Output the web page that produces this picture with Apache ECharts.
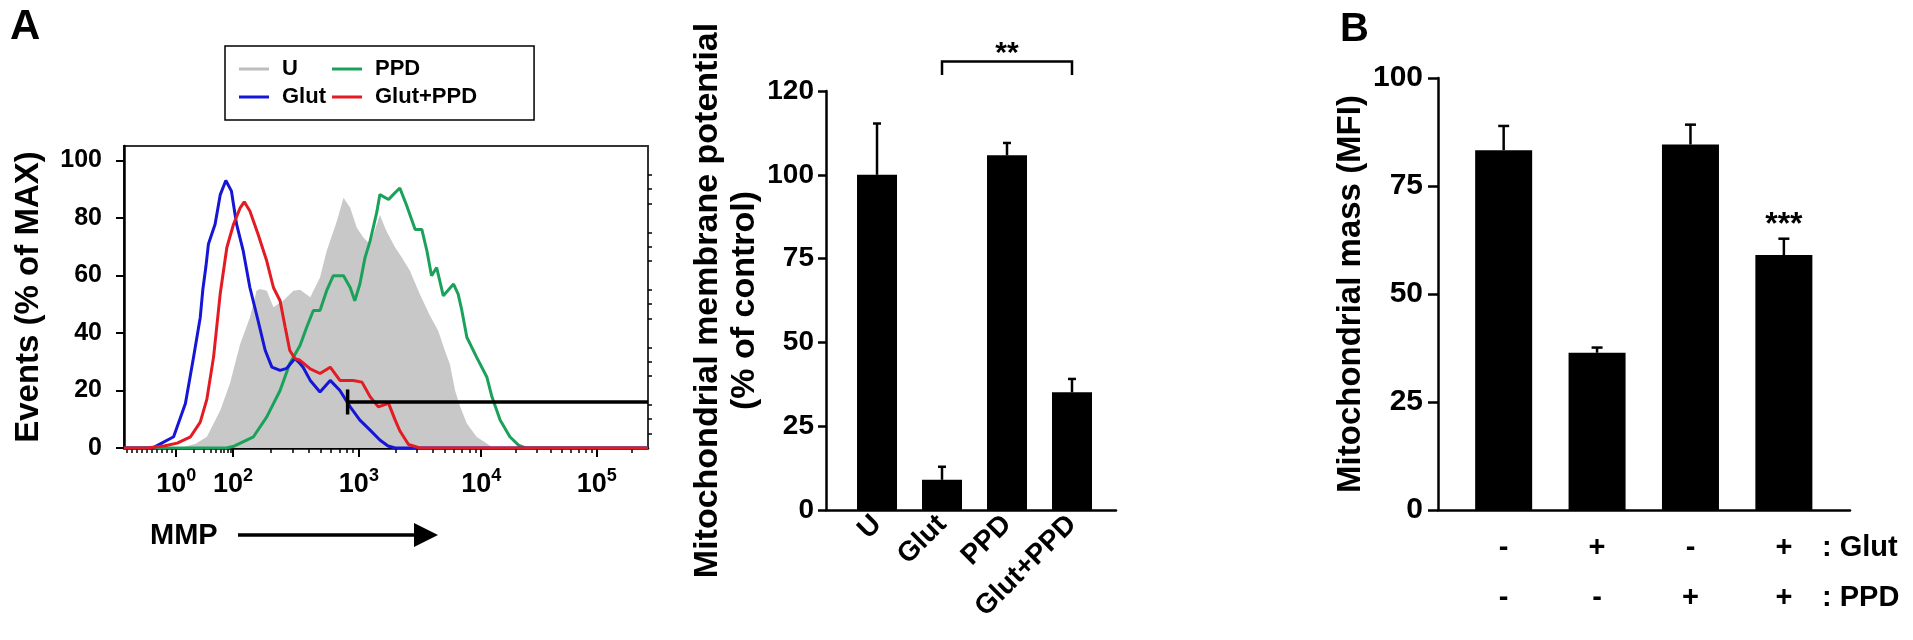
<!DOCTYPE html>
<html><head><meta charset="utf-8">
<script src="https://cdn.jsdelivr.net/npm/echarts@6/dist/echarts.min.js"></script>
<style>html,body{margin:0;padding:0;background:#fff}#c{width:1913px;height:640px}</style>
</head><body><div id="c"></div>
<script>
// ===== Panel A (left): MMP flow-cytometry histogram; x = display channel (0-1024, biexponential display) =====
const histU = [[0,0],[109,0],[140,1.5],[162,3.9],[188,13],[207,22.4],[227,36.2],[246,45.4],[259,54.7],[266,55.3],[279,54.7],[292,48.9],[311,51.2],[331,54.7],[344,55],[364,52.4],[383,59.3],[396,68.5],[416,78.9],[429,87],[442,83.5],[455,76.6],[468,73.1],[481,70.8],[500,81],[513,75.4],[530,69.7],[543,66.2],[559,61.5],[578,53.5],[598,46],[614,40.8],[627,33.9],[637,29],[647,20],[657,14.3],[670,8.5],[689,3.9],[709,1.6],[721,0],[1024,0]];
const histPPD = [[0,0],[200,0],[213,0.5],[253,3.9],[279,10.8],[305,20],[324,29.4],[344,35.6],[357,42],[370,47.8],[383,47.8],[396,54.7],[409,59.9],[429,59.9],[442,55.8],[451,51.2],[461,57],[471,66.2],[481,72],[494,82],[500,88.1],[517,86.4],[526,88.1],[539,90.4],[552,84.5],[569,76],[582,76],[592,68.5],[601,59.9],[611,62.7],[624,52.9],[644,57],[653,53.5],[660,48],[670,38.5],[689,31.6],[709,24.7],[719,17.8],[735,9.7],[754,3.9],[771,1],[784,0],[1024,0]];
const histGlut = [[0,0],[55,0],[61,0.5],[97,3.9],[120,15.5],[136,31.6],[149,45.4],[154,55],[160,63],[165,70.9],[178,77.8],[188,88],[199,93],[210,89.3],[220,77.8],[233,68.5],[246,55.8],[262,44.3],[276,33.9],[289,28.1],[305,27],[318,27.7],[334,31.1],[344,29.4],[350,28.1],[364,23.5],[383,19.5],[403,23.5],[422,20],[442,14.3],[461,9.7],[481,6.2],[500,2.8],[516,0.7],[530,0],[1024,0]];
const histGlutPPD = [[0,0],[45,0],[80,0.8],[104,1.7],[130,3.9],[149,9],[162,17],[175,31.6],[188,53.6],[201,69.7],[214,77.8],[227,83.5],[235,85.6],[246,82.4],[262,74.3],[279,65],[292,55.8],[305,51.2],[315,42],[324,33.9],[334,31.1],[344,30.5],[364,27.5],[383,25.9],[403,28.1],[422,23.5],[448,23.5],[465,22.9],[481,17.8],[497,14.3],[517,15.5],[530,9.7],[539,6],[556,1.2],[578,0],[1024,0]];
const histNames = ['U','Glut','PPD','Glut+PPD'];
const gateLevel = 16;
const gateRange = [437, 1024];
const histYTicks = [0,20,40,60,80,100];
const decadeExp = ['0','2','3','4','5'];
const decadeLabelChannels = [102,213,459,698,924];
const decadeChannels = [102,213,459,698,924,1150];   // decade boundaries of the display
const linearTickChannels = [6,16,25,35,45,55,64,74,84,94];

// ===== Panel A (right): mitochondrial membrane potential =====
const mmpCats = ['U','Glut','PPD','Glut+PPD'];
const mmpMean = [100, 9.0, 105.8, 35.1];
const mmpErr = [15.3, 3.9, 3.7, 4.0];
const mmpTickLabels = ['0','25','50','75','100','120'];
const mmpSig = {from:1, to:3, top:133.8, drop:129.8, text:'**'};

// ===== Panel B: mitochondrial mass =====
const massGlut = ['-','+','-','+'];
const massPPD = ['-','-','+','+'];
const massMean = [83.3, 36.4, 84.6, 59.0];
const massErr = [5.6, 1.2, 4.6, 3.8];
const massSig = ['','','','***'];

const FONT = '"Liberation Sans", Arial, Helvetica, sans-serif';
const minorLog = [];
for (let d = 0; d < decadeChannels.length - 1; d++) {
  const c0 = decadeChannels[d], c1 = decadeChannels[d+1];
  for (let k = 2; k <= 9; k++) { const c = c0 + (c1 - c0) * Math.log10(k); if (c <= 1024) minorLog.push(c); }
}
const histMinorTicks = linearTickChannels.concat(minorLog);
const histYMinor = [];
for (let v = 5; v <= 100; v += 5) if (v % 20) histYMinor.push(v);

function errorRenderer(cap, sigs, sigOffset, sigSize) {
  return function (params, api) {
    const i = params.dataIndex;
    const x = api.value(0);
    const p0 = api.coord([x, api.value(1)]);
    const p1 = api.coord([x, api.value(2)]);
    const ch = [
      {type:'line', shape:{x1:p0[0], y1:p0[1], x2:p1[0], y2:p1[1]}, style:{stroke:'#000', lineWidth:2.5}},
      {type:'line', shape:{x1:p1[0]-cap, y1:p1[1], x2:p1[0]+cap, y2:p1[1]}, style:{stroke:'#000', lineWidth:2.5}}
    ];
    if (sigs && sigs[i]) ch.push({type:'text', style:{text:sigs[i], x:p1[0], y:p1[1]-sigOffset, align:'center', verticalAlign:'middle', fontSize:sigSize, fontWeight:'bold', fontFamily:FONT, fill:'#000'}});
    return {type:'group', children: ch};
  };
}

const chart = echarts.init(document.getElementById('c'), null, {renderer:'canvas'});
const lineSeries = (name, data, color, extra) => Object.assign({
  name, type:'line', xAxisIndex:0, yAxisIndex:0, data, symbol:'none', silent:true,
  lineStyle:{color, width:3}, itemStyle:{color}, animation:false
}, extra || {});
const blackLine = {show:true, onZero:false, lineStyle:{color:'#000', width:2.5}};

chart.setOption({
  animation:false,
  textStyle:{fontFamily:FONT, color:'#000'},
  title:[
    {text:'A', left:10, top:6, padding:0, textStyle:{fontSize:42, fontWeight:'bold', color:'#000', fontFamily:FONT}},
    {text:'B', left:1340, top:10, padding:0, textStyle:{fontSize:40, fontWeight:'bold', color:'#000', fontFamily:FONT}},
    {text:'MMP', left:150, top:521, padding:0, textStyle:{fontSize:29, fontWeight:'bold', color:'#000', fontFamily:FONT}},
    {text:': Glut', left:1822, top:533, padding:0, textStyle:{fontSize:29, fontWeight:'bold', color:'#000', fontFamily:FONT}},
    {text:': PPD', left:1822, top:583, padding:0, textStyle:{fontSize:29, fontWeight:'bold', color:'#000', fontFamily:FONT}}
  ],
  graphic:[
    {type:'line', shape:{x1:238, y1:535, x2:420, y2:535}, style:{stroke:'#000', lineWidth:3.5}},
    {type:'polygon', shape:{points:[[414,523],[438,535],[414,547]]}, style:{fill:'#000'}}
  ],
  legend:{
    orient:'vertical', left:225, top:46, height:60, padding:[12,57,12,14], itemGap:6,
    itemWidth:30, itemHeight:3, icon:'rect', borderColor:'#000', borderWidth:1.5,
    textStyle:{fontSize:22, fontWeight:'bold', color:'#000', fontFamily:FONT, padding:[0,20,0,8]},
    data:histNames, selectedMode:false
  },
  grid:[
    {left:124, top:146, width:524, height:302, show:true, borderColor:'#333', borderWidth:2, backgroundColor:'transparent'},
    {left:826, top:91, width:290, height:419},
    {left:1438, top:78, width:412, height:432}
  ],
  xAxis:[
    {gridIndex:0, type:'value', min:0, max:1024, position:'bottom', axisLine:blackLine,
      axisTick:{customValues:decadeChannels.filter(c=>c<=1024), length:9, lineStyle:{color:'#000', width:2}},
      axisLabel:{customValues:decadeLabelChannels, margin:19,
        formatter:(v)=>{ let i=0, best=1e9; decadeLabelChannels.forEach((c,k)=>{ if(Math.abs(c-v)<best){best=Math.abs(c-v); i=k;} }); return '{b|10}{s|'+decadeExp[i]+'}'; },
        rich:{b:{fontSize:27, fontWeight:'bold', fontFamily:FONT, color:'#000', lineHeight:31, verticalAlign:'bottom'},
              s:{fontSize:18, fontWeight:'bold', fontFamily:FONT, color:'#000', lineHeight:18, verticalAlign:'top'}}},
      splitLine:{show:false}},
    {gridIndex:0, type:'value', min:0, max:1024, position:'bottom',
      axisLine:{show:false, onZero:false}, axisLabel:{show:false}, splitLine:{show:false},
      axisTick:{customValues:histMinorTicks, length:5, lineStyle:{color:'#000', width:1.5}}},
    {gridIndex:1, type:'value', min:-0.785, max:3.677, axisLine:blackLine, axisTick:{show:false}, splitLine:{show:false},
      axisLabel:{customValues:[0,1,2,3], rotate:45, margin:10, fontSize:28, fontWeight:'bold', color:'#000',
        formatter:(v)=>mmpCats[Math.round(v)]}},
    {gridIndex:2, type:'value', min:-0.703, max:3.708, axisLine:blackLine, axisTick:{show:false}, splitLine:{show:false},
      axisLabel:{customValues:[0,1,2,3], margin:13, fontSize:29, fontWeight:'bold', color:'#000', lineHeight:50,
        formatter:(v)=>massGlut[Math.round(v)]+'\n'+massPPD[Math.round(v)]}}
  ],
  yAxis:[
    {gridIndex:0, type:'value', min:0, max:105, axisLine:blackLine,
      axisTick:{customValues:histYTicks, length:8, lineStyle:{color:'#000', width:2}},
      axisLabel:{customValues:histYTicks, margin:22, fontSize:25, fontWeight:'bold', color:'#000'},
      splitLine:{show:false},
      name:'Events (% of MAX)', nameLocation:'middle', nameRotate:90, nameGap:77,
      nameTextStyle:{fontSize:33, fontWeight:'bold', color:'#000', lineHeight:37, fontFamily:FONT}},
    {gridIndex:0, type:'value', min:0, max:105, axisLine:{show:false, onZero:false}, axisLabel:{show:false}, splitLine:{show:false},
      axisTick:{customValues:histYMinor, length:4, lineStyle:{color:'#000', width:1.5}}},
    {gridIndex:1, type:'value', min:0, max:125, interval:25, axisLine:blackLine,
      axisTick:{length:8, lineStyle:{color:'#000', width:2.5}},
      axisLabel:{margin:12, fontSize:28, fontWeight:'bold', color:'#000', formatter:(v)=>mmpTickLabels[Math.round(v/25)]},
      splitLine:{show:false},
      name:'Mitochondrial membrane potential\n(% of control)', nameLocation:'middle', nameRotate:90, nameGap:58,
      nameTextStyle:{fontSize:34, fontWeight:'bold', color:'#000', lineHeight:37, align:'center', fontFamily:FONT}},
    {gridIndex:2, type:'value', min:0, max:100, interval:25, axisLine:blackLine,
      axisTick:{length:10, lineStyle:{color:'#000', width:2.5}},
      axisLabel:{margin:15, fontSize:30, fontWeight:'bold', color:'#000'},
      splitLine:{show:false},
      name:'Mitochondrial mass (MFI)', nameLocation:'middle', nameRotate:90, nameGap:64,
      nameTextStyle:{fontSize:33, fontWeight:'bold', color:'#000', lineHeight:37, fontFamily:FONT}}
  ],
  series:[
    lineSeries('U', histU, '#bdbdbd', {lineStyle:{width:0, color:'#c8c8c8'}, areaStyle:{color:'#c8c8c8', opacity:1}, z:1}),
    lineSeries('PPD', histPPD, '#1ba25a', {z:2}),
    lineSeries('Glut', histGlut, '#1616d6', {z:3}),
    lineSeries('Glut+PPD', histGlutPPD, '#e31b23', {z:4}),
    {name:'gate', type:'line', xAxisIndex:0, yAxisIndex:0, silent:true, z:5,
      data:[{value:[gateRange[0], gateLevel], symbol:'rect', symbolSize:[3.5,25]}, {value:[gateRange[1], gateLevel], symbol:'none'}],
      showSymbol:true, lineStyle:{color:'#000', width:3.5}, itemStyle:{color:'#000'}},
    {name:'mmp', type:'bar', xAxisIndex:2, yAxisIndex:2, barWidth:40, silent:true,
      data:mmpMean.map((v,i)=>[i,v]), itemStyle:{color:'#000'}},
    {name:'mmpErr', type:'custom', xAxisIndex:2, yAxisIndex:2, silent:true, z:3,
      data:mmpMean.map((v,i)=>[i, v, v+mmpErr[i]]), renderItem:errorRenderer(4, null)},
    {name:'mmpSig', type:'custom', xAxisIndex:2, yAxisIndex:2, silent:true, z:3,
      data:[[mmpSig.from, mmpSig.to, mmpSig.top, mmpSig.drop]],
      renderItem:(params, api)=>{
        const a = api.coord([api.value(0), api.value(3)]), b = api.coord([api.value(0), api.value(2)]);
        const c = api.coord([api.value(1), api.value(2)]), d = api.coord([api.value(1), api.value(3)]);
        return {type:'group', children:[
          {type:'polyline', shape:{points:[a,b,c,d]}, style:{stroke:'#000', lineWidth:2.5, fill:null}},
          {type:'text', style:{text:mmpSig.text, x:(b[0]+c[0])/2, y:b[1]-8, align:'center', verticalAlign:'middle', fontSize:30, fontWeight:'bold', fontFamily:FONT, fill:'#000'}}
        ]};
      }},
    {name:'mass', type:'bar', xAxisIndex:3, yAxisIndex:3, barWidth:57, silent:true,
      data:massMean.map((v,i)=>[i,v]), itemStyle:{color:'#000'}},
    {name:'massErr', type:'custom', xAxisIndex:3, yAxisIndex:3, silent:true, z:3,
      data:massMean.map((v,i)=>[i, v, v+massErr[i]]), renderItem:errorRenderer(5.5, massSig, 14, 32)}
  ]
});
</script></body></html>
